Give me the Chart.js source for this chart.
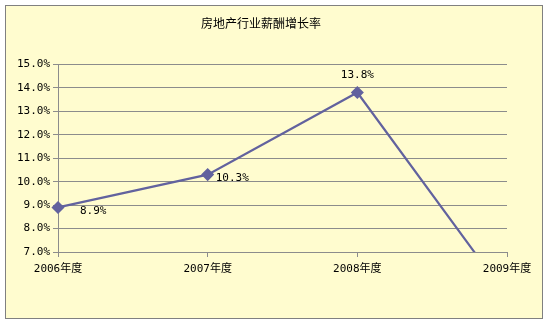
<!DOCTYPE html>
<html>
<head>
<meta charset="utf-8">
<script src="https://cdn.jsdelivr.net/npm/chart.js@4/dist/chart.umd.min.js"></script>
<style>
html,body{margin:0;padding:0;background:#fff;}
#wrap{width:548px;height:322px;position:relative;}
</style>
</head>
<body>
<div id="wrap"><canvas id="c" width="548" height="322"></canvas></div>
<script>
const categories = ['2006年度', '2007年度', '2008年度', '2009年度'];
const growthRate = [8.9, 10.3, 13.8, 5.1];
const yTicks = [7, 8, 9, 10, 11, 12, 13, 14, 15];
const chartTitle = '房地产行业薪酬增长率';

const lineColor = '#62629E';
const gridColor = '#8C8C8C';
const monoFont = "'DejaVu Sans Mono', 'Noto Sans CJK SC', monospace";

const backgroundPlugin = {
  id: 'bgFrame',
  beforeDraw(chart) {
    const ctx = chart.ctx;
    ctx.save();
    ctx.fillStyle = '#ffffff';
    ctx.fillRect(0, 0, chart.width, chart.height);
    ctx.fillStyle = '#FFFCCF';
    ctx.fillRect(5, 5, 538, 314);
    ctx.strokeStyle = '#808080';
    ctx.lineWidth = 1;
    ctx.strokeRect(5.5, 5.5, 537, 313);
    ctx.restore();
  }
};

const labelOffsets = [[22, 4, 'left'], [8, 4, 'left'], [0, -17, 'center'], [8, 4, 'left']];
const dataLabelPlugin = {
  id: 'dataLabels',
  afterDatasetsDraw(chart) {
    const ctx = chart.ctx;
    const meta = chart.getDatasetMeta(0);
    const area = chart.chartArea;
    ctx.save();
    ctx.font = '11px ' + monoFont;
    ctx.fillStyle = '#000';
    ctx.textBaseline = 'middle';
    meta.data.forEach((pt, i) => {
      if (pt.y > area.bottom + 0.5 || pt.y < area.top - 0.5) return;
      const o = labelOffsets[i];
      ctx.textAlign = o[2];
      ctx.fillText(growthRate[i].toFixed(1) + '%', pt.x + o[0], pt.y + o[1]);
    });
    ctx.restore();
  }
};

new Chart(document.getElementById('c'), {
  type: 'line',
  data: {
    labels: categories,
    datasets: [{
      data: growthRate,
      borderColor: lineColor,
      backgroundColor: lineColor,
      borderWidth: 2.2,
      pointStyle: 'rectRot',
      pointRadius: 5,
      pointHoverRadius: 5,
      tension: 0,
      clip: {left: 10, top: 10, right: 10, bottom: 0}
    }]
  },
  options: {
    responsive: false,
    animation: false,
    events: [],
    layout: {padding: {left: 15, right: 41, top: 0, bottom: 0}},
    plugins: {
      legend: {display: false},
      tooltip: {enabled: false},
      title: {
        display: true,
        text: chartTitle,
        color: '#000',
        font: {family: "'Noto Sans CJK SC', sans-serif", size: 12, weight: 'normal'},
        padding: {top: 16, bottom: 34}
      }
    },
    scales: {
      x: {
        offset: false,
        grid: {display: true, drawOnChartArea: false, drawTicks: true, tickLength: 5, color: gridColor},
        border: {display: true, color: gridColor, width: 1},
        ticks: {color: '#000', font: {family: monoFont, size: 11}, padding: 6, maxRotation: 0, autoSkip: false},
        afterFit(scale) { scale.height = 70; }
      },
      y: {
        min: yTicks[0],
        max: yTicks[yTicks.length - 1],
        afterBuildTicks(scale) { scale.ticks = yTicks.map(v => ({value: v})); },
        grid: {display: true, drawOnChartArea: true, drawTicks: true, tickLength: 5, color: gridColor},
        border: {display: true, color: gridColor, width: 1},
        ticks: {color: '#000', font: {family: monoFont, size: 11}, padding: 3,
          callback: v => Number(v).toFixed(1) + '%'},
        afterFit(scale) { scale.width = 43; }
      }
    }
  },
  plugins: [backgroundPlugin, dataLabelPlugin]
});
</script>
</body>
</html>
